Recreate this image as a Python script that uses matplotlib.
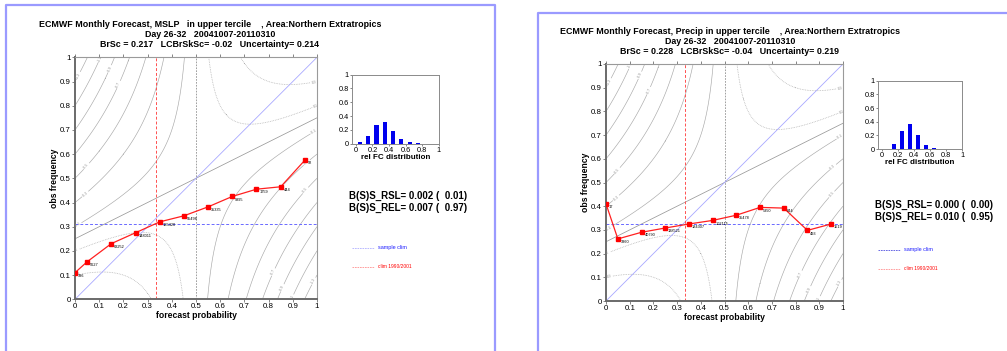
import numpy as np
import matplotlib
matplotlib.use("Agg")
import matplotlib.pyplot as plt
from matplotlib.lines import Line2D

plt.rcParams['font.family'] = ['Liberation Sans', 'DejaVu Sans']

# ---- data -------------------------------------------------------------
fc_prob = [0.0, 0.05, 0.15, 0.25, 0.35, 0.45, 0.55, 0.65, 0.75, 0.85, 0.95]

mslp_obs = [0.11, 0.155, 0.23, 0.275, 0.32, 0.345, 0.382, 0.425, 0.455, 0.465, 0.575]
mslp_counts = ["336", "5627", "63252", "148011", "165420", "95498", "35335", "9895", "1759", "444", "92"]
mslp_hist = [0.02, 0.11, 0.27, 0.31, 0.19, 0.07, 0.02, 0.005, 0.002, 0.001]
mslp_sample_clim = 0.31
mslp_title = ["ECMWF Monthly Forecast, MSLP   in upper tercile    , Area:Northern Extratropics",
              "Day 26-32   20041007-20110310",
              "BrSc = 0.217   LCBrSkSc= -0.02   Uncertainty= 0.214"]
mslp_scores = ["B(S)S_RSL= 0.002 (  0.01)", "B(S)S_REL= 0.007 (  0.97)"]

precip_obs = [0.41, 0.262, 0.29, 0.308, 0.325, 0.34, 0.362, 0.395, 0.392, 0.298, 0.325]
precip_counts = ["17", "3360", "40790", "138521", "184307", "102115", "35478", "5350", "844", "493", "1519"]
precip_hist = [0.005, 0.08, 0.27, 0.36, 0.20, 0.06, 0.01, 0.003, 0.001, 0.001]
precip_sample_clim = 0.325
precip_title = ["ECMWF Monthly Forecast, Precip in upper tercile    , Area:Northern Extratropics",
                "Day 26-32   20041007-20110310",
                "BrSc = 0.228   LCBrSkSc= -0.04   Uncertainty= 0.219"]
precip_scores = ["B(S)S_RSL= 0.000 (  0.00)", "B(S)S_REL= 0.010 (  0.95)"]

hist_centres = [0.05, 0.15, 0.25, 0.35, 0.45, 0.55, 0.65, 0.75, 0.85, 0.95]
clim_1990_2001 = 1.0 / 3.0
ref_clim = 0.5

W, H = 1007, 351
fig = plt.figure(figsize=(W / 100, H / 100), dpi=100)


def fx(px):
    return px / W


def fy(py):
    return 1 - py / H


def panel(ax_rect, inset_rect, obs, counts, hist, sample_clim, title, title_xy,
          scores, scores_xy, legend_xy, legend_line_colour):
    ax = fig.add_axes(ax_rect)
    # skill-score isolines of the reliability diagram
    p, o = np.meshgrid(np.linspace(0, 1, 401), np.linspace(0, 1, 401))
    field = (p - ref_clim) * (2 * o - p - ref_clim)
    neg = np.arange(-0.75, 0, 0.1)
    pos = np.array([0.05, 0.15])
    cn = ax.contour(p, o, field, levels=neg, colors='#a8a8a8', linewidths=0.45,
                    linestyles='solid')
    cp = ax.contour(p, o, field, levels=pos, colors='#b0b0b0', linewidths=0.55,
                    linestyles=[(0, (1, 1.2))])
    for cs in (cn, cp):
        ax.clabel(cs, fontsize=2.5, fmt=lambda v: f"{2 * v:.1f}", inline=True,
                  inline_spacing=1, colors='#909090')
    xs = np.array([0, 1])
    ax.plot(xs, (xs + ref_clim) / 2, color='#909090', lw=0.5)
    ax.axvline(ref_clim, color='#909090', lw=0.6, ls=(0, (2, 1.5)))
    ax.plot(xs, xs, color='#a8a8ff', lw=0.6)
    ax.axhline(sample_clim, color='#6a6aff', lw=0.7, ls=(0, (3, 2)))
    ax.axvline(clim_1990_2001, color='#ff5050', lw=0.7, ls=(0, (3, 2)))

    ax.plot(fc_prob, obs, color='#ff2020', lw=0.9, marker='s', ms=2.6,
            mfc='#ff0000', mec='#ff0000', zorder=5)
    for x, y, c in zip(fc_prob, obs, counts):
        ax.text(x + 0.012, y - 0.005, c, fontsize=2.8, ha='left', va='top',
                color='black', zorder=6)

    ticks = np.round(np.arange(0, 1.01, 0.1), 1)
    ax.set_xlim(0, 1)
    ax.set_ylim(0, 1)
    ax.set_xticks(ticks)
    ax.set_yticks(ticks)
    ax.set_xticklabels([f"{v:g}" for v in ticks])
    ax.set_yticklabels([f"{v:g}" for v in ticks])
    ax.tick_params(labelsize=5.7, length=2, width=0.5, pad=1, colors='#555555',
                   labelcolor='black')
    ax.tick_params(axis='x', top=True, direction='out')
    for s in ('left', 'bottom'):
        ax.spines[s].set_linewidth(1.4)
        ax.spines[s].set_color('#6a6a6a')
    for s in ('top', 'right'):
        ax.spines[s].set_linewidth(0.8)
        ax.spines[s].set_color('#9a9a9a')
    ax.set_xlabel('forecast probability', fontsize=6.2, fontweight='bold', labelpad=0.5)
    ax.set_ylabel('obs frequency', fontsize=6.2, fontweight='bold', labelpad=0.5)

    # inset: distribution of forecast probabilities
    ai = fig.add_axes(inset_rect)
    ai.bar(hist_centres, hist, width=0.05, color='#0000ee')
    ai.set_xlim(-0.05, 1.0)
    ai.set_ylim(0, 1)
    ai.set_xticks([0, 0.2, 0.4, 0.6, 0.8, 1])
    ai.set_xticklabels(['0', '0.2', '0.4', '0.6', '0.8', '1'])
    ai.set_yticks([0, 0.2, 0.4, 0.6, 0.8, 1])
    ai.set_yticklabels(['0', '0.2', '0.4', '0.6', '0.8', '1'])
    ai.tick_params(labelsize=5.3, length=1.5, width=0.5, pad=0.8, colors='#555555',
                   labelcolor='black')
    for s in ai.spines.values():
        s.set_linewidth(0.7)
        s.set_color('#8a8a8a')
    ai.set_xlabel('rel FC distribution', fontsize=5.8, fontweight='bold', labelpad=0)

    tx, ty = title_xy
    for i, line in enumerate(title):
        fig.text(fx(tx), fy(ty + 10 * i), line, fontsize=6.4, fontweight='bold',
                 ha='center', va='center')
    sx, sy = scores_xy
    for i, line in enumerate(scores):
        fig.text(fx(sx), fy(sy + 12 * i), line, fontsize=7, fontweight='bold',
                 ha='left', va='center')
    lx, ly = legend_xy
    fig.add_artist(Line2D([fx(lx), fx(lx + 22)], [fy(ly), fy(ly)],
                          color=legend_line_colour, lw=0.6, ls=(0, (2, 1))))
    fig.text(fx(lx + 26), fy(ly), 'sample clim', fontsize=4, color='#2020ff',
             ha='left', va='center')
    fig.add_artist(Line2D([fx(lx), fx(lx + 22)], [fy(ly + 19), fy(ly + 19)],
                          color='#ff9090', lw=0.6, ls=(0, (2, 1))))
    fig.text(fx(lx + 26), fy(ly + 19), 'clim 1990/2001', fontsize=3.5,
             color='#ff0000', ha='left', va='center')


panel([fx(75), fy(299.3), fx(242), 242 / H],
      [fx(351.7), fy(143.7), fx(87), 69 / H],
      mslp_obs, mslp_counts, mslp_hist, mslp_sample_clim,
      mslp_title, (210, 24.5), mslp_scores, (349, 196), (352, 248), '#b0b0ff')

panel([fx(606), fy(301), fx(237), 237 / H],
      [fx(878), fy(149), fx(84), 68.3 / H],
      precip_obs, precip_counts, precip_hist, precip_sample_clim,
      precip_title, (730, 31.5), precip_scores, (875, 205), (878, 250), '#5050e0')

# page frames
frame = '#9a9aff'
fig.add_artist(Line2D([fx(6), fx(6), fx(495), fx(495)], [fy(351), fy(5), fy(5), fy(351)],
                      color=frame, lw=1.6))
fig.add_artist(Line2D([fx(538), fx(538), fx(1007)], [fy(351), fy(13), fy(13)],
                      color=frame, lw=1.6))

fig.savefig('out.png', dpi=100)
